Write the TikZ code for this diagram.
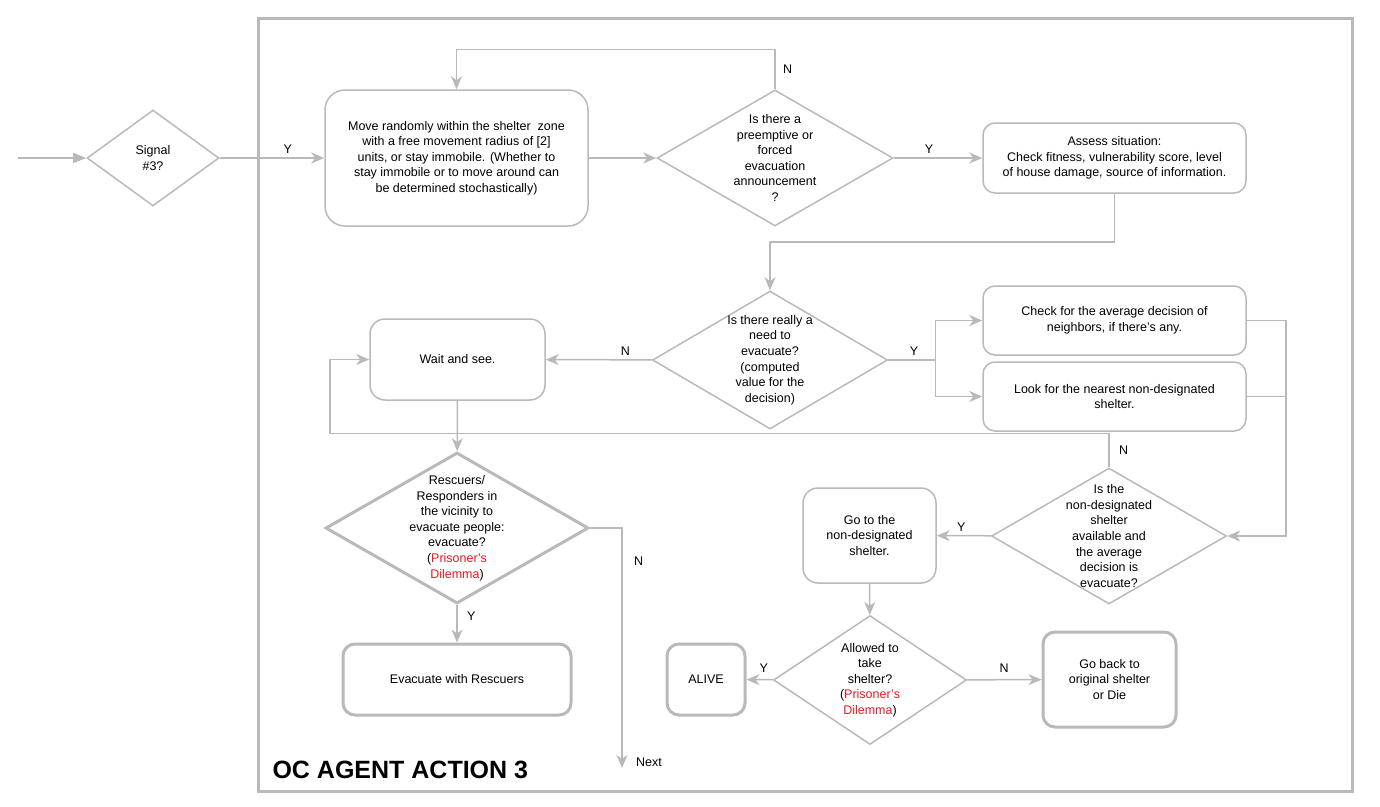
\documentclass[tikz,border=0pt]{standalone}
\usepackage{fontspec}
\setmainfont{Liberation Sans}
\usetikzlibrary{shapes.geometric, arrows.meta}
\definecolor{lgray}{RGB}{185,185,185}
\definecolor{pdred}{RGB}{240,20,30}

\tikzset{
    box/.style={draw=lgray, line width=1.5pt, rounded corners=15pt, align=center},
    bbox/.style={draw=lgray, line width=3pt, rounded corners=12pt, align=center},
    dec/.style={draw=lgray, line width=1.5pt, shape=diamond, inner sep=0pt},
    bdec/.style={dec, line width=3pt},
    txt/.style={align=center},
    flow/.style={draw=lgray, line width=1.5pt, -{Stealth[length=13pt, width=11pt, inset=4pt]}},
    plain/.style={draw=lgray, line width=1.5pt},
    lbl/.style={text=black}
}

\begin{document}
\begin{tikzpicture}[x=1pt, y=-1pt, font=\fontsize{12.5}{15.6}\selectfont]
    \useasboundingbox (0,0) rectangle (1380,806);

    % frame
    \draw[lgray, line width=3pt] (258,18) rectangle (1352,791);
    \node(title)[anchor=west, font=\bfseries\fontsize{25}{30}\selectfont] at (269,770) {OC AGENT ACTION 3};

    % decisions
    \node(sig)[dec, minimum width=132, minimum height=96] at (153,158) {};
    \node(sigt)[txt] at (sig) {Signal\\\#3?};

    \node(d1)[dec, minimum width=236, minimum height=136] at (775,158) {};
    \node(d1t)[txt] at (d1) {Is there a\\preemptive or\\forced\\evacuation\\announcement\\?};

    \node(d2)[dec, minimum width=235, minimum height=138] at (770,360) {};
    \node(d2t)[txt] at (d2) {Is there really a\\need to\\evacuate?\\(computed\\value for the\\decision)};

    \node(d3)[dec, minimum width=235, minimum height=136] at (1109,536) {};
    \node(d3t)[txt] at (d3) {Is the\\non-designated\\shelter\\available and\\the average\\decision is\\evacuate?};

    \node(d4)[dec, minimum width=193, minimum height=129] at (870,680) {};
    \node(d4t)[txt] at (d4) {Allowed to\\take\\shelter?\\({\color{pdred}Prisoner’s}\\{\color{pdred}Dilemma})};

    \node(d5)[bdec, minimum width=263, minimum height=151] at (457,528) {};
    \node(d5t)[txt] at (d5) {Rescuers/\\Responders in\\the vicinity to\\evacuate people:\\evacuate?\\({\color{pdred}Prisoner’s}\\{\color{pdred}Dilemma})};

    % actions
    \node(move)[box, rounded corners=20pt, minimum width=263, minimum height=136] at (456.5,158) {Move randomly within the shelter\ \ zone\\with a free movement radius of [2]\\units, or stay immobile. (Whether to\\stay immobile or to move around can\\be determined stochastically)};
    \node(assess)[box, rounded corners=12pt, minimum width=263, minimum height=70] at (1114.5,158) {Assess situation:\\Check fitness, vulnerability score, level\\of house damage, source of information.};
    \node(wait)[box, minimum width=175, minimum height=81] at (457.5,359.5) {Wait and see.};
    \node(check)[box, rounded corners=12pt, minimum width=263, minimum height=69] at (1114.5,320.5) {Check for the average decision of\\neighbors, if there’s any.};
    \node(look)[box, rounded corners=12pt, minimum width=263, minimum height=69] at (1114.5,396.5) {Look for the nearest non-designated\\shelter.};
    \node(go)[box, minimum width=133, minimum height=95] at (869.5,535.5) {Go to the\\non-designated\\shelter.};
    \node(alive)[bbox, minimum width=78, minimum height=71] at (706,679.5) {ALIVE};
    \node(goback)[bbox, minimum width=133, minimum height=95] at (1109.5,679.5) {Go back to\\original shelter\\or Die};
    \node(evac)[bbox, minimum width=228, minimum height=71] at (457,679.5) {Evacuate with Rescuers};

    \node(next) at (649,762) {Next};
    \coordinate(start) at (18,158);
    \coordinate(nx) at (622,768);
    \coordinate(wl) at (330,359.5);

    % connectors
    \draw[plain, -{Triangle[length=13pt, width=10pt]}] (start) -- (sig);
    \draw[flow] (sig) -- node[lbl, pos=0.65, above]{Y} (move);
    \draw[flow] (move) -- (d1);
    \draw[flow] (d1.north) -- node[lbl, right=4pt]{N} ++(0,-40) -| (move.north);
    \draw[flow] (d1) -- node[lbl, pos=0.4, above]{Y} (assess);
    \draw[flow] (assess.south) -- ++(0,48) -| (d2.north);
    \draw[flow] (d2) -- node[lbl, pos=0.25, above]{N} (wait);
    \draw[flow] (d2.east) -- node[lbl, pos=0.55, above]{Y} ++(47,0) |- (check.west);
    \draw[flow] (d2.east) -- ++(47,0) |- (look.west);
    \draw[flow] (check.east) -- ++(39,0) |- (d3.east);
    \draw[plain] (look.east) -- ++(39,0);
    \draw[flow] (d3.north) -- node[lbl, right=6pt]{N} ++(0,-34) -| (wl) -- (wait.west);
    \draw[flow] (d3) -- node[lbl, pos=0.55, above]{Y} (go);
    \draw[flow] (go) -- (d4);
    \draw[flow] (d4) -- node[lbl, pos=0.35, above=3pt]{Y} (alive);
    \draw[flow] (d4) -- node[lbl, pos=0.5, above=3pt]{N} (goback);
    \draw[flow] (wait) -- (d5);
    \draw[flow] (d5) -- node[lbl, pos=0.3, right=6pt]{Y} (evac);
    \draw[flow] (d5.east) -| node[lbl, pos=0.57, right=8pt]{N} (nx);
\end{tikzpicture}
\end{document}
